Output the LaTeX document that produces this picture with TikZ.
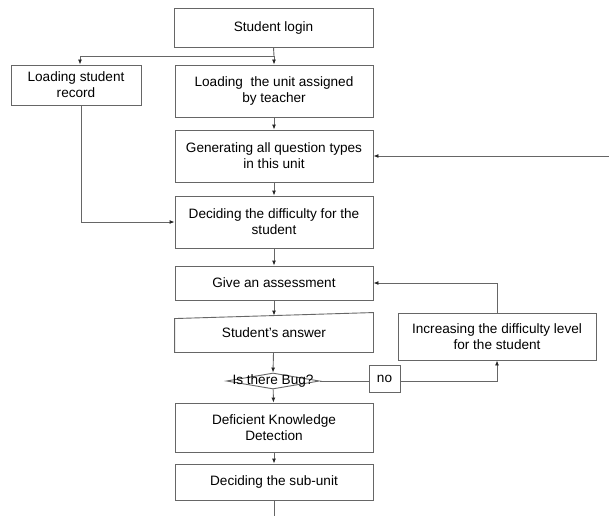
\documentclass[tikz,border=0pt]{standalone}
\usepackage{fontspec}
\setmainfont{Liberation Sans}
\usetikzlibrary{arrows.meta,shapes.geometric}
\definecolor{linegray}{rgb}{0.40,0.40,0.40}
\begin{document}
\begin{tikzpicture}[x=1pt,y=-1pt,
  font=\fontsize{13.6}{16}\selectfont,
  every path/.style={draw=linegray,line width=0.9pt},
  box/.style={draw=linegray,line width=0.9pt,rectangle,inner sep=0pt,align=center,
              minimum width=198pt,text=black},
  arr/.style={-{Latex[length=5pt,width=4pt,color=black!85]}},
]
\useasboundingbox[draw=none,fill=white] (0,0) rectangle (609,516);

% process boxes
\node[box,minimum width=199pt,minimum height=39pt] (login) at (273.5,27.5) {Student login};
\node[box,minimum width=130pt,minimum height=40pt] (record) at (76,85) {Loading student\\record};
\node[box,minimum height=52pt] (unit) at (274,91) {Loading\ \ the unit assigned\\by teacher};
\node[box,minimum height=52pt] (gen) at (274,156) {Generating all question types\\in this unit};
\node[box,minimum height=52pt] (diff) at (274,222) {Deciding the difficulty for the\\student};
\node[box,minimum height=34pt] (assess) at (274,283) {Give an assessment};

% manual input step (slanted top edge)
\node[box,draw=none,minimum height=39pt] (answer) at (274,332.5) {Student's answer};
\draw (answer.south west) -- ([yshift=-6pt]answer.north west) -- (answer.north east)
      -- (answer.south east) -- cycle;

% decision
\node[draw=linegray,line width=0.9pt,diamond,minimum width=93pt,minimum height=16pt,
      inner sep=0pt,label={[text=black,inner sep=0pt]center:Is there Bug?}] (bug) at (273,381) {};

\node[box,minimum height=49pt] (defic) at (274,427.5) {Deficient Knowledge\\Detection};
\node[box,minimum height=36pt] (subunit) at (274,482) {Deciding the sub-unit};
\node[box,minimum height=47pt] (incr) at (497,336.5) {Increasing the difficulty level\\for the student};

\coordinate (split) at (274,56);
\coordinate (feed) at (609,156);
\coordinate (out) at (274,516);

% connectors
\draw (login.south) -- (split);
\draw[arr] (split) -| ([xshift=4pt]record.north);
\draw[arr] (split) -- (unit.north);
\draw[arr] (unit) -- (gen);
\draw[arr] (gen) -- (diff);
\draw[arr] ([xshift=5pt]record.south) |- (diff.west);
\draw[arr] (feed) -- (gen.east);
\draw[arr] (diff) -- (assess);
\draw[arr] (assess) -- ([yshift=-3pt]answer.north);
\draw[arr] (answer) -- (bug.north);
\draw[arr] (bug) -- (defic);
\draw[arr] (defic) -- (subunit);
\draw (subunit) -- (out);
\draw[arr] (bug.east) -| (incr.south);
\draw[arr] (incr.north) |- (assess.east);

\node[box,fill=white,minimum width=31pt,minimum height=27pt] (no) at (384.5,378.5) {no};
\end{tikzpicture}
\end{document}
